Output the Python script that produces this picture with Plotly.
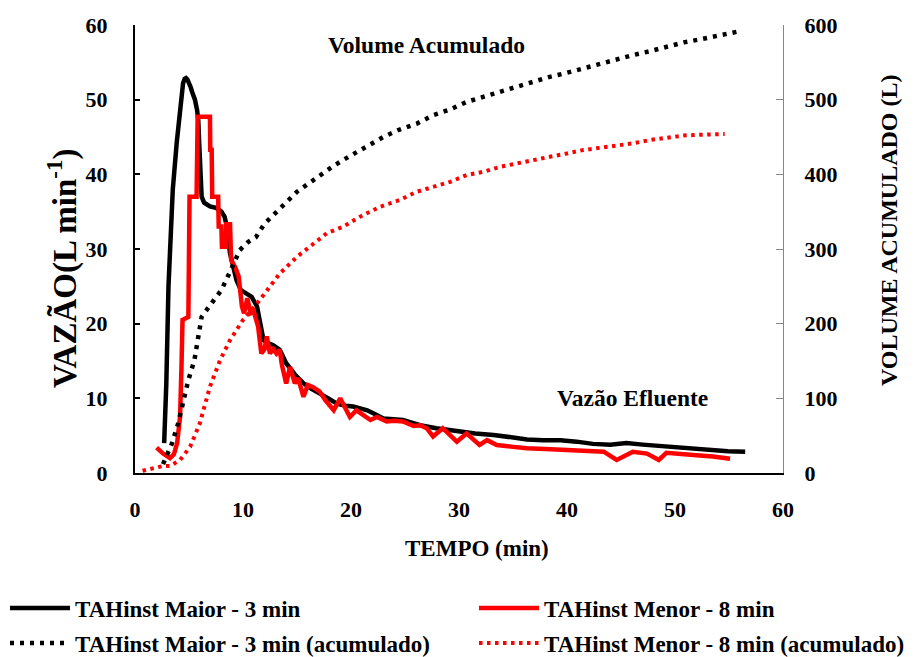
import plotly.graph_objects as go

# ---------------- data ----------------
t_maior = [2.7, 2.9, 3.1, 3.24, 3.5, 3.86, 4.1, 4.3, 4.45, 4.6, 4.72, 4.85, 5.0, 5.15,
           5.3, 5.55, 5.75, 5.86, 5.95, 6.05, 6.17, 6.4, 6.94, 7.5, 8.0, 8.3, 8.5,
           8.8, 9.4, 9.8, 10.2, 10.8, 11.3, 11.9, 12.3, 12.8, 13.4, 14.0, 14.8, 15.6,
           16.3, 17.1, 17.9, 18.7, 19.5, 20.2, 21.5, 22.2, 23.0, 24.8, 26.4, 27.9,
           29.0, 30.1, 31.5, 33.2, 34.7, 36.3, 37.8, 39.4, 40.9, 42.4, 44.0, 45.5,
           47.0, 48.6, 50.1, 51.7, 53.3, 54.9, 56.5]
q_maior = [4.0, 12.0, 25.0, 30.0, 38.0, 44.2, 48.0, 50.8, 52.2, 52.8, 52.9, 52.7, 52.3,
           51.7, 51.0, 50.0, 48.6, 47.2, 44.0, 39.5, 37.0, 36.2, 35.7, 35.5, 35.0,
           34.3, 33.0, 29.4, 25.8, 24.5, 24.1, 23.6, 22.3, 17.8, 17.4, 17.1, 16.5,
           14.7, 13.2, 12.0, 11.3, 10.7, 10.0, 9.3, 9.0, 8.9, 8.4, 7.9, 7.3, 7.1,
           6.4, 6.0, 5.8, 5.5, 5.3, 5.1, 4.8, 4.5, 4.4, 4.4, 4.2, 3.9, 3.8, 4.0, 3.8,
           3.6, 3.4, 3.2, 3.0, 2.9, 2.85]

t_menor = [2.0, 2.6, 3.24, 3.6, 3.9, 4.17, 4.3, 4.4, 4.94, 5.05, 5.7, 5.8, 6.94, 6.97,
           7.1, 7.15, 7.7, 7.75, 8.0, 8.05, 8.4, 8.45, 8.8, 8.9, 9.3, 9.6, 9.9, 10.1,
           10.4, 10.7, 11.0, 11.4, 11.7, 12.0, 12.2, 12.5, 12.8, 13.1, 13.4, 13.6,
           14.0, 14.35, 14.8, 15.1, 15.6, 16.0, 16.5, 17.1, 17.6, 18.4, 19.0, 19.9,
           20.5, 21.2, 21.8, 22.4, 23.3, 24.0, 24.8, 25.8, 26.4, 27.0, 27.6, 28.5,
           29.2, 29.8, 30.7, 31.9, 32.6, 33.5, 35.0, 36.3, 38.0, 39.4, 41.0, 42.4,
           43.4, 44.6, 46.1, 47.4, 48.5, 49.2, 50.5, 51.7, 53.5, 55.1]
q_menor = [3.4, 2.6, 2.0, 2.5, 4.0, 7.5, 14.0, 20.5, 20.9, 37.0, 37.0, 47.7, 47.7, 43.3,
           43.3, 37.0, 37.0, 33.0, 33.0, 30.3, 30.3, 33.3, 33.3, 28.5, 27.5, 26.3,
           22.3, 21.4, 23.4, 21.4, 21.6, 19.6, 16.0, 16.6, 18.3, 16.0, 16.6, 16.0,
           16.5, 14.5, 12.0, 14.2, 12.0, 12.7, 10.2, 11.8, 11.5, 10.9, 9.8, 8.4,
           10.0, 7.5, 8.4, 7.6, 7.1, 7.5, 6.9, 7.0, 6.9, 6.3, 6.4, 6.0, 4.9, 6.0,
           5.0, 4.2, 5.3, 3.75, 4.4, 3.75, 3.5, 3.3, 3.2, 3.1, 3.0, 2.85, 2.85, 1.75,
           2.85, 2.6, 1.75, 2.7, 2.6, 2.4, 2.2, 1.9]

t_acum_maior = [2.6, 3.0, 3.4, 4.0, 4.47, 4.94, 5.5, 5.86, 6.17, 6.85, 7.5, 8.0, 8.8,
                9.7, 10.5, 11.2, 12.0, 12.8, 13.9, 15.0, 16.4, 17.75, 18.4, 19.9,
                21.5, 23.0, 24.5, 26.1, 27.6, 29.2, 30.7, 32.3, 33.8, 35.3, 36.9,
                38.4, 40.0, 41.5, 43.1, 44.6, 46.1, 47.7, 49.2, 50.8, 52.3, 53.9, 56.1]
v_acum_maior = [12, 25, 38.8, 66.5, 95.5, 124.5, 151, 178, 209, 222.7, 234, 245, 269.5,
                298.6, 309.7, 316, 334, 345.5, 363, 376.7, 391, 405.7, 411.5, 424.5,
                438, 450, 460, 468, 479, 487, 497, 504, 510.6, 517, 524, 530.6, 536,
                542, 548.6, 554, 559.7, 565, 571, 576.7, 580.7, 586, 592]

t_acum_menor = [0.7, 1.7, 2.6, 3.24, 4.17, 5.1, 6.0, 6.94, 7.87, 8.8, 10.0, 11.3, 12.5,
                13.4, 15.0, 16.2, 17.75, 19.3, 20.8, 22.7, 24.5, 26.1, 27.6, 29.2,
                30.7, 32.3, 33.8, 35.3, 36.9, 38.4, 40.0, 41.5, 43.1, 44.6, 46.1,
                47.7, 49.2, 50.8, 52.3, 54.6]
v_acum_menor = [3, 6.3, 9.4, 9.4, 17.4, 35, 66.5, 115.6, 151, 178, 205, 227, 249.5,
                267, 289.6, 303, 321, 330, 343, 356.6, 365.6, 376.7, 383.4, 390, 399,
                403.5, 410, 414.7, 419, 423.5, 428, 432.5, 435.6, 438, 441.5, 446,
                449.5, 452, 453, 454]

x_ticks = [0, 10, 20, 30, 40, 50, 60]
y_ticks = [0, 10, 20, 30, 40, 50, 60]
y2_ticks = [0, 100, 200, 300, 400, 500, 600]

names = ["TAHinst Maior - 3 min", "TAHinst Menor - 8 min",
         "TAHinst Maior - 3 min (acumulado)", "TAHinst Menor - 8 min (acumulado)"]

# ---------------- layout geometry (pixels) ----------------
W, H = 918, 657
L, R, T, B = 135, 783, 25, 473
PW, PH = R - L, B - T


def px(x):
    return (x - L) / PW


def py(y):
    return (B - y) / PH


def cx(x):
    return x / W


def cy(y):
    return (H - y) / H


FAM = "Liberation Serif, Times New Roman, serif"


def f(size, color="black"):
    return dict(family=FAM, size=size, color=color, weight="bold")


fig = go.Figure()
fig.add_trace(go.Scatter(x=t_maior, y=q_maior, mode="lines", name=names[0],
                         line=dict(color="black", width=4.5), legend="legend"))
fig.add_trace(go.Scatter(x=t_menor, y=q_menor, mode="lines", name=names[1],
                         line=dict(color="#FF0000", width=4.5), legend="legend2"))
fig.add_trace(go.Scatter(x=t_acum_maior, y=v_acum_maior, mode="lines", name=names[2],
                         yaxis="y2", line=dict(color="black", width=4.5, dash="4px,6px"),
                         legend="legend3"))
fig.add_trace(go.Scatter(x=t_acum_menor, y=v_acum_menor, mode="lines", name=names[3],
                         yaxis="y2", line=dict(color="#FF0000", width=4, dash="3.5px,4.5px"),
                         legend="legend4"))


def leg(x, y):
    return dict(orientation="h", xref="container", yref="container", x=cx(x), y=cy(y),
                xanchor="left", yanchor="middle", font=f(23), itemwidth=60,
                bgcolor="rgba(0,0,0,0)", borderwidth=0)


def ann(text, x, y, size, angle=0):
    return dict(text=text, x=px(x), y=py(y), xref="paper", yref="paper",
                xanchor="center", yanchor="middle", showarrow=False,
                textangle=angle, font=f(size))


fig.update_layout(
    width=W, height=H,
    margin=dict(l=L, r=W - R, t=T, b=H - B, autoexpand=False),
    paper_bgcolor="white", plot_bgcolor="white",
    showlegend=True,
    legend=leg(5, 608),
    legend2=leg(474, 608),
    legend3=leg(5, 643),
    legend4=leg(474, 643),
    xaxis=dict(range=[0, 60], tickvals=x_ticks, showline=True, linecolor="black",
               linewidth=2, ticks="", showgrid=False, zeroline=False,
               tickfont=f(22), ticklabelstandoff=16),
    yaxis=dict(range=[0, 60], tickvals=y_ticks, showline=True, linecolor="black",
               linewidth=2, ticks="inside", ticklen=5, tickwidth=1.5, tickcolor="black",
               showgrid=False, zeroline=False, tickfont=f(22), ticklabelstandoff=21),
    yaxis2=dict(range=[0, 600], tickvals=y2_ticks, overlaying="y", side="right",
                showline=True, linecolor="#868686", linewidth=1.2, ticks="inside",
                ticklen=7, tickwidth=1.2, tickcolor="#868686", showgrid=False,
                zeroline=False, tickfont=f(22), ticklabelstandoff=16),
    annotations=[
        ann("TEMPO (min)", 477, 548, 23),
        ann("VAZÃO(L min<sup>-1</sup>)", 62, 268, 33, -90),
        ann("VOLUME ACUMULADO (L)", 889, 230, 24, -90),
        ann("Volume Acumulado", 426, 45, 23.5),
        ann("Vazão Efluente", 632, 398, 23.5),
    ],
)

fig.write_html("out.html", config={"displayModeBar": False},
               post_script="document.body.style.margin='0';"
                           "document.body.style.padding='0';")
